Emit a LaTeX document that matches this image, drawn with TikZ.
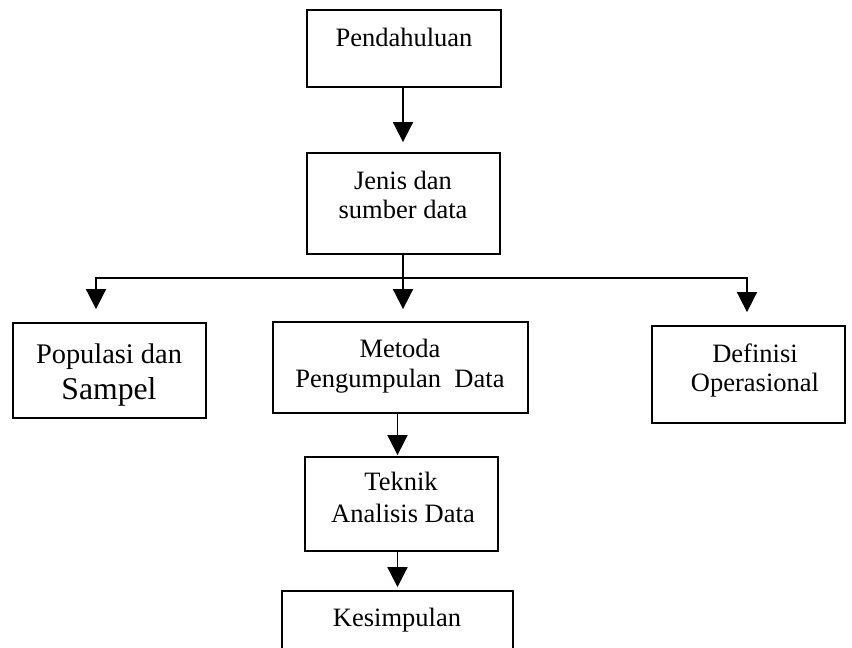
\documentclass[tikz,border=0pt]{standalone}
\usepackage{fontspec}
\setmainfont{Liberation Serif}
\usetikzlibrary{arrows.meta}
\begin{document}
\begin{tikzpicture}[x=1pt,y=-1pt,
  box/.style={draw,line width=1.8pt,inner sep=0pt},
  txt/.style={anchor=base,inner sep=0pt,font=\fontsize{26.5}{30}\selectfont},
  wire/.style={line width=1.8pt},
  flow/.style={line width=1.8pt,-{Triangle[length=20pt,width=20pt]}}]

\useasboundingbox (0,0) rectangle (852,648);
\clip (0,0) rectangle (852,648);

% boxes
\node[box,minimum width=194pt,minimum height=77pt]  (pend) at (404,48.5)  {};
\node[box,minimum width=193pt,minimum height=101pt] (jenis) at (403.5,203.5) {};
\node[box,minimum width=193pt,minimum height=95pt]  (pop)  at (109.5,370.5) {};
\node[box,minimum width=255pt,minimum height=91pt]  (meto) at (400.5,367.5) {};
\node[box,minimum width=193pt,minimum height=97pt]  (def)  at (748.5,374.5) {};
\node[box,minimum width=193pt,minimum height=94pt]  (tek)  at (401.5,504)   {};
\node[box,minimum width=231pt,minimum height=109pt] (kes)  at (397.5,645.5) {};

% labels
\node[txt] (lpend)  at (404,46)  {Pendahuluan};
\node[txt] (ljen1)  at (403,189) {Jenis dan};
\node[txt] (ljen2)  at (403,218) {sumber data};
\node[txt,font=\fontsize{28.4}{32}\selectfont] (lpop1) at (109,363) {Populasi dan};
\node[txt,font=\fontsize{31.7}{36}\selectfont] (lpop2) at (109,399) {Sampel};
\node[txt] (lmet1)  at (400,357) {Metoda};
\node[txt] (lmet2)  at (400,387) {Pengumpulan~~Data};
\node[txt] (ldef1)  at (755,362) {Definisi};
\node[txt] (ldef2)  at (755,391) {Operasional};
\node[txt] (ltek1)  at (401,490) {Teknik};
\node[txt] (ltek2)  at (403,522) {Analisis Data};
\node[txt] (lkes)   at (397,626) {Kesimpulan};

% branch points
\coordinate (jc) at (403,278);
\coordinate (jl) at (96,278);
\coordinate (jr) at (747,278);

% connectors
\draw[flow,shorten >=10pt] (pend.south -| jc) -- (jenis.north -| jc);
\draw[wire] (jenis.south -| jc) -- (jc);
\draw[flow,shorten >=12pt] (jc) -- (meto.north -| jc);
\draw[flow,shorten >=13pt] (jc) -- (jl) -- (pop.north -| jl);
\draw[flow,shorten >=13pt] (jc) -- (jr) -- (def.north -| jr);
\draw[flow,shorten >=1pt] (meto.south -| kes.north) -- (tek.north -| kes.north);
\draw[flow,shorten >=3pt] (tek.south -| kes.north) -- (kes.north);
\end{tikzpicture}
\end{document}
